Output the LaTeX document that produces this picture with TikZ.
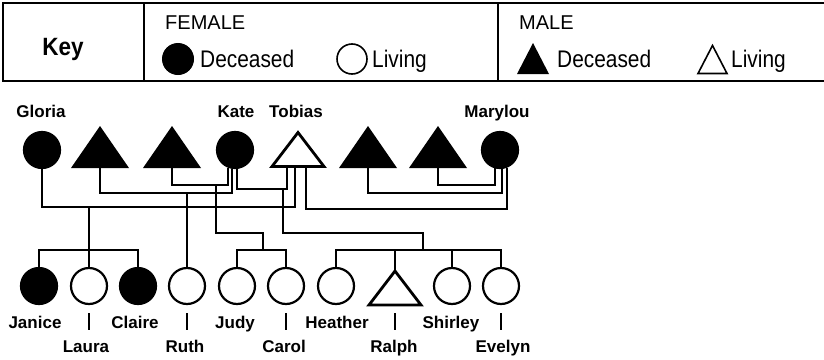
\documentclass[tikz,border=0pt]{standalone}
\usepackage{fontspec}
\usepackage{graphicx}
\setmainfont{Liberation Sans}
\usetikzlibrary{calc}
\tikzset{
  link/.style={line width=2.3pt, line join=miter},
  boxline/.style={line width=2pt},
  fdead/.style={circle, draw, fill=black, line width=2.2pt, minimum size=36pt, inner sep=0pt},
  falive/.style={circle, draw, fill=white, line width=2.2pt, minimum size=36pt, inner sep=0pt},
  mdead/.style={rectangle, inner sep=0pt, outer sep=0pt, minimum width=58pt, minimum height=42pt, anchor=south,
    append after command={\pgfextra{\fill (\tikzlastnode.south west) -- (\tikzlastnode.south east) -- (\tikzlastnode.north) -- cycle;}}},
  malive/.style={rectangle, inner sep=0pt, outer sep=0pt, minimum width=52pt, minimum height=34pt, anchor=south,
    append after command={\pgfextra{\draw[line width=2.8pt, line join=miter] (\tikzlastnode.south west) -- (\tikzlastnode.south east) -- (\tikzlastnode.north) -- cycle;}}},
  malivekey/.style={rectangle, inner sep=0pt, outer sep=0pt, minimum width=29pt, minimum height=28pt, anchor=south,
    append after command={\pgfextra{\draw[line width=1.6pt, line join=miter] (\tikzlastnode.south west) -- (\tikzlastnode.south east) -- (\tikzlastnode.north) -- cycle;}}},
  pname/.style={font=\fontsize{17}{19}\selectfont\bfseries, inner sep=0pt, anchor=base},
  head/.style={font=\fontsize{20}{22}\selectfont, inner sep=0pt, anchor=base west},
  keytxt/.style={font=\fontsize{24}{26}\selectfont, inner sep=0pt, anchor=base west},
  keyttl/.style={font=\fontsize{25}{27}\selectfont\bfseries, inner sep=0pt, anchor=base},
}
\begin{document}
\begin{tikzpicture}[x=1pt, y=-1pt]
\useasboundingbox (0,0) rectangle (824,359);
% key box
\draw[boxline] (824,3) -- (3,3) -- (3,81) -- (824,81);
\draw[boxline] (144,3) -- (144,81);
\draw[boxline] (498,3) -- (498,81);
\node[keyttl] (keylbl) at (63,55) {\scalebox{0.9}[1]{Key}};
\node[head] (female) at (165,29) {FEMALE};
\node[head] (male) at (519,29) {MALE};
\node[circle, fill=black, draw, line width=1pt, minimum size=31pt, inner sep=0pt] (kfd) at (178,59) {};
\node[keytxt] (kfdt) at (200,67) {\scalebox{0.87}[1]{Deceased}};
\node[circle, draw, line width=1.6pt, minimum size=30pt, inner sep=0pt] (kfl) at (352,59) {};
\node[keytxt] (kflt) at (372,67) {\scalebox{0.87}[1]{Living}};
\node[mdead, minimum width=32pt, minimum height=31pt] (kmd) at (533,74) {};
\node[keytxt] (kmdt) at (557,67) {\scalebox{0.87}[1]{Deceased}};
\node[malivekey] (kml) at (712.5,73.5) {};
\node[keytxt] (kmlt) at (731,67) {\scalebox{0.87}[1]{Living}};
% top generation
\node[fdead] (gloria) at (42,150) {};
\node[mdead] (m1) at (100,168) {};
\node[mdead] (m2) at (172,168) {};
\node[fdead] (kate) at (235,150) {};
\node[malive] (tob) at (298,166.5) {};
\node[mdead] (m3) at (368,168) {};
\node[mdead] (m4) at (438,168) {};
\node[fdead] (mary) at (500,150) {};
\node[pname] (gloriaL) at (41,117) {Gloria};
\node[pname] (kateL) at (236,117) {Kate};
\node[pname] (tobL) at (296,117) {Tobias};
\node[pname] (maryL) at (497,117) {Marylou};
% bottom generation
\node[fdead] (janice) at (39,286) {};
\node[falive] (laura) at (89,286) {};
\node[fdead] (claire) at (138,286) {};
\node[falive] (ruth) at (187,286) {};
\node[falive] (judy) at (237,286) {};
\node[falive] (carol) at (286,286) {};
\node[falive] (heather) at (336,286) {};
\node[malive] (ralph) at (395,305) {};
\node[falive] (shirley) at (452,286) {};
\node[falive] (evelyn) at (501,286) {};
\node[pname] (janiceL) at (35,328) {Janice};
\node[pname] (claireL) at (135,328) {Claire};
\node[pname] (judyL) at (235,328) {Judy};
\node[pname] (heatherL) at (337,328) {Heather};
\node[pname] (shirleyL) at (451,328) {Shirley};
\node[pname] (lauraL) at (86,352) {Laura};
\node[pname] (ruthL) at (185,352) {Ruth};
\node[pname] (carolL) at (284,352) {Carol};
\node[pname] (ralphL) at (394,352) {Ralph};
\node[pname] (evelynL) at (503,352) {Evelyn};
% bar levels and attachment points
\coordinate (b185) at (0,185);
\coordinate (b189) at (0,189);
\coordinate (b193) at (0,193);
\coordinate (b207) at (0,207);
\coordinate (b209) at (0,209);
\coordinate (b233) at (0,233);
\coordinate (b250) at (0,250);
\coordinate (tobK) at ($(tob.south)+(-11,0)$);
\coordinate (tobG) at ($(tob.south)+(-3,0)$);
\coordinate (tobM) at ($(tob.south)+(8,0)$);
\coordinate (jcTop) at (216,185);
\coordinate (jcMid) at (263,250);
\coordinate (hTop) at (283,189);
\coordinate (hMid) at (423,250);
% marriages
\draw[link] (gloria.south) |- (tobG |- b207) -- (tobG);
\draw[link] (m1.south) |- (kate.261 |- b193) -- (kate.261);
\draw[link] (m2.south) |- (kate.248 |- b185) -- (kate.248);
\draw[link] (kate.276) |- (tobK |- b189) -- (tobK);
\draw[link] (tobM) |- (mary.292 |- b209) -- (mary.292);
\draw[link] (m3.south) |- (mary.276 |- b193) -- (mary.276);
\draw[link] (m4.south) |- (mary.255 |- b185) -- (mary.255);
% children
\draw[link] (laura.north) -- (laura.north |- b207);
\draw[link] (janice.north) |- (claire.north |- b250) -- (claire.north);
\draw[link] (ruth.north) -- (ruth.north |- b193);
\draw[link] (jcTop) |- (jcMid |- b233) -- (jcMid);
\draw[link] (judy.north) |- (carol.north |- b250) -- (carol.north);
\draw[link] (hTop) |- (hMid |- b233) -- (hMid);
\draw[link] (heather.north) |- (evelyn.north |- b250) -- (evelyn.north);
\draw[link] (ralph.north) -- (ralph.north |- b250);
\draw[link] (shirley.north) -- (shirley.north |- b250);
% ticks to lower labels
\draw[link] ([yshift=-8pt]laura.south) -- ([yshift=-25pt]laura.south);
\draw[link] ([yshift=-8pt]ruth.south) -- ([yshift=-25pt]ruth.south);
\draw[link] ([yshift=-8pt]carol.south) -- ([yshift=-25pt]carol.south);
\draw[link] ([yshift=-8pt]ralph.south) -- ([yshift=-25pt]ralph.south);
\draw[link] ([yshift=-8pt]evelyn.south) -- ([yshift=-25pt]evelyn.south);
\end{tikzpicture}
\end{document}
